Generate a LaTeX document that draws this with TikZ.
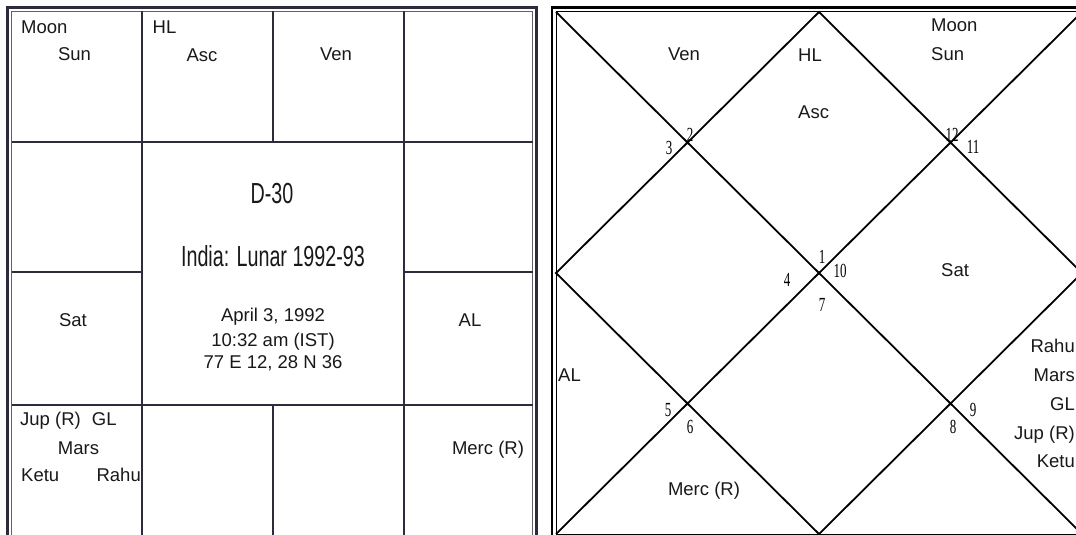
\documentclass[tikz,border=0pt]{standalone}
\usepackage{fontspec}
\setmainfont{Liberation Sans}
\newfontfamily\numfont{Liberation Serif}
\definecolor{leftline}{RGB}{44,44,60}
\definecolor{txt}{RGB}{25,25,25}
\newcommand\nrw[1]{\scalebox{0.65}[1]{#1}}
\newcommand\bnrw[1]{\scalebox{0.68}[1]{#1}}
\begin{document}
\begin{tikzpicture}[x=1pt,y=-1pt,
  lbl/.style={inner sep=0pt, text height=13pt, text depth=0pt, text=txt, font=\fontsize{18.5}{18.5}\selectfont},
  big/.style={inner sep=0pt, text height=21pt, text depth=0pt, text=txt, font=\fontsize{29}{29}\selectfont},
  num/.style={inner sep=0pt, text height=13.5pt, text depth=0pt, text=black, font=\numfont\fontsize{20}{20}\selectfont},
  gridline/.style={draw=leftline, line width=2pt},
  kline/.style={draw=black, line width=1.8pt}]
\useasboundingbox (0,0) rectangle (1076,535);
\clip (0,0) rectangle (1076,535);
\fill[white] (0,0) rectangle (1076,535);

% ---------- left (South Indian) chart ----------
\draw[leftline, line width=2.5pt] (7.5,7.5) rectangle (536.5,545);
\draw[leftline!75, line width=1.2pt] (11.5,11.5) rectangle (532.5,540);
\coordinate (a1) at (142,11.5);  \coordinate (a2) at (142,540);
\coordinate (b1) at (404,11.5);  \coordinate (b2) at (404,540);
\coordinate (c1) at (273,11.5);  \coordinate (c2) at (273,142);
\coordinate (c3) at (273,405);   \coordinate (c4) at (273,540);
\coordinate (h1) at (11.5,142);  \coordinate (h2) at (532.5,142);
\coordinate (h3) at (11.5,405);  \coordinate (h4) at (532.5,405);
\coordinate (h5) at (11.5,272);  \coordinate (h6) at (142,272);
\coordinate (h7) at (404,272);   \coordinate (h8) at (532.5,272);
\path[gridline] (a1)--(a2) (b1)--(b2) (c1)--(c2) (c3)--(c4)
  (h1)--(h2) (h3)--(h4) (h5)--(h6) (h7)--(h8);

\node[lbl, anchor=west] (lmoon) at (21,27) {Moon};
\node[lbl] (lsun) at (74.5,54) {Sun};
\node[lbl, anchor=west] (lhl) at (152.5,27) {HL};
\node[lbl] (lasc) at (202,55) {Asc};
\node[lbl] (lven) at (336,54) {Ven};
\node[lbl] (lsat) at (73,320) {Sat};
\node[lbl] (lal) at (470,320) {AL};
\node[lbl, anchor=west] (ljup) at (20,419) {Jup (R)\hspace{0.6em}GL};
\node[lbl] (lmars) at (78.5,448) {Mars};
\node[lbl, anchor=west] (lketu) at (21,475) {Ketu};
\node[lbl, anchor=east] (lrahu) at (141,475) {Rahu};
\node[lbl] (lmerc) at (488,447.5) {Merc (R)};

\node[big] (title) at (272,193) {\bnrw{D-30}};
\node[big] (sub) at (273,256) {\bnrw{India: Lunar 1992-93}};
\node[lbl] (date) at (273,315) {April 3, 1992};
\node[lbl] (time) at (273,340) {10:32 am (IST)};
\node[lbl] (place) at (273,362) {77 E 12, 28 N 36};

% ---------- right (North Indian) chart ----------
\draw[black, line width=2.5pt] (552,7.5) rectangle (1095,545);
\draw[black, line width=1pt] (556,12) rectangle (1082,534);
\coordinate (TL) at (556,12);   \coordinate (TR) at (1082,12);
\coordinate (BL) at (556,534);  \coordinate (BR) at (1082,534);
\coordinate (TM) at (819,12);   \coordinate (BM) at (819,534);
\coordinate (LM) at (556,273);  \coordinate (RM) at (1082,273);
\path[kline] (TL)--(BR) (TR)--(BL) (TM)--(RM)--(BM)--(LM)--cycle;

\node[lbl] (rven) at (684,54) {Ven};
\node[lbl, anchor=west] (rhl) at (798,55.5) {HL};
\node[lbl, anchor=west] (rasc) at (798,112) {Asc};
\node[lbl, anchor=west] (rmoon) at (931,25) {Moon};
\node[lbl, anchor=west] (rsun) at (931,54) {Sun};
\node[lbl, anchor=west] (rsat) at (941,270) {Sat};
\node[lbl, anchor=west] (ral) at (558,375) {AL};
\node[lbl] (rmerc) at (704,489) {Merc (R)};
\node[lbl, anchor=east] (rrahu) at (1075,345.5) {Rahu};
\node[lbl, anchor=east] (rmars) at (1075,374.5) {Mars};
\node[lbl, anchor=east] (rgl) at (1075,404) {GL};
\node[lbl, anchor=east] (rjup) at (1075,432.5) {Jup (R)};
\node[lbl, anchor=east] (rketu) at (1075,460.5) {Ketu};

\node[num] (n3) at (669,148) {\nrw{3}};
\node[num] (n2) at (690,135) {\nrw{2}};
\node[num] (n12) at (952,135) {\nrw{12}};
\node[num] (n11) at (973,147) {\nrw{11}};
\node[num] (n1) at (822,257) {\nrw{1}};
\node[num] (n4) at (787,280) {\nrw{4}};
\node[num] (n10) at (840,271) {\nrw{10}};
\node[num] (n7) at (822,305) {\nrw{7}};
\node[num] (n5) at (668,410) {\nrw{5}};
\node[num] (n6) at (690,427) {\nrw{6}};
\node[num] (n9) at (973,410) {\nrw{9}};
\node[num] (n8) at (953,427) {\nrw{8}};
\end{tikzpicture}
\end{document}
